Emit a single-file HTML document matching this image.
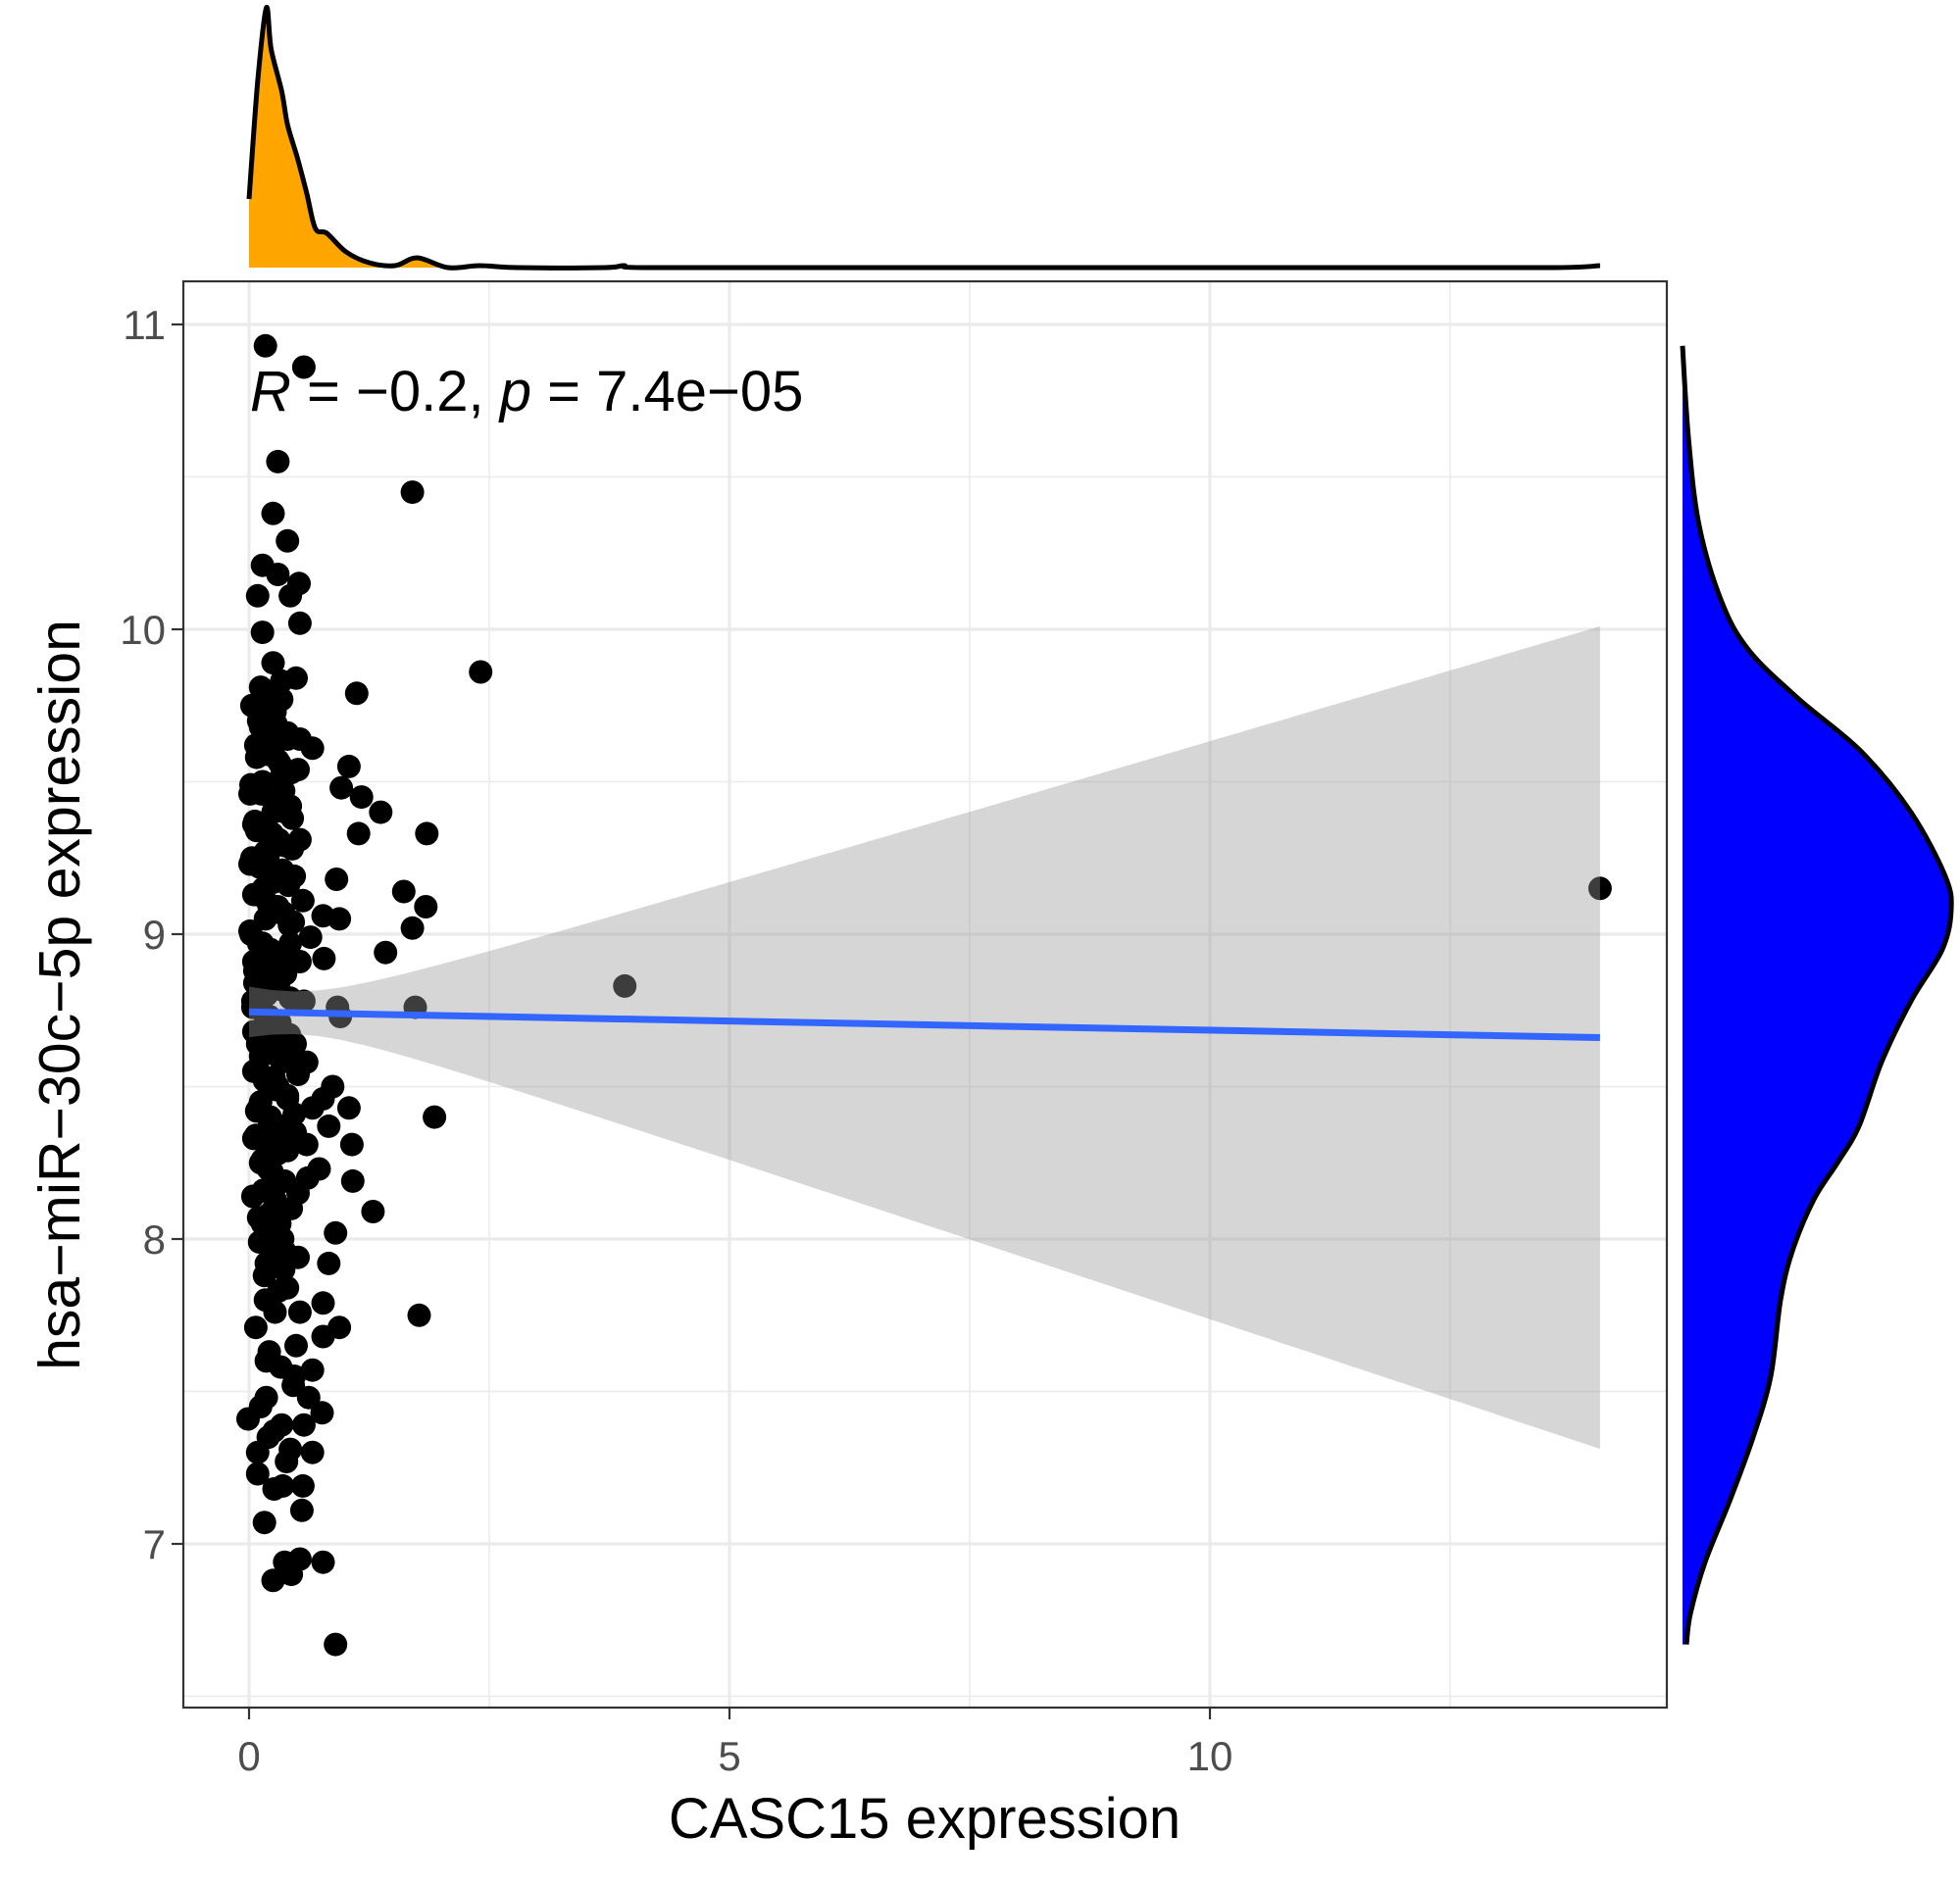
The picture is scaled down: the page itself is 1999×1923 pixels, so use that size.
<!DOCTYPE html>
<html><head><meta charset="utf-8">
<style>
html,body{margin:0;padding:0;background:#fff;}
svg{display:block;font-family:"Liberation Sans",Arial,sans-serif;}
</style></head>
<body>
<svg id="chart" width="1999" height="1923" viewBox="0 0 1999 1923" xmlns="http://www.w3.org/2000/svg">
  <rect x="0" y="0" width="1999" height="1923" fill="#fff"/>
  <g id="grid"></g>
  <g id="points"></g>
  <g id="fit"></g>
  <rect x="187" y="287" width="1513" height="1455" fill="none" stroke="#333" stroke-width="2.2"/>
  <g id="axes"></g>
  <g id="topdens"></g>
  <g id="rightdens"></g>
  <text x="255" y="419" font-size="58" fill="#000"><tspan font-style="italic">R</tspan> = −0.2, <tspan font-style="italic">p</tspan> = 7.4e−05</text>
  <text x="943" y="1875" font-size="58" text-anchor="middle" fill="#000">CASC15 expression</text>
  <text x="0" y="0" font-size="59" text-anchor="middle" fill="#000" transform="translate(81,1015) rotate(-90)">hsa−miR−30c−5p expression</text>
</svg>
<script>
// ---- data ----
const xVals = [0.17,0.57,0.30,1.70,0.25,0.40,0.14,0.30,0.52,0.09,0.43,0.14,0.53,2.41,0.25,0.49,1.12,0.12,0.34,0.53,0.66,1.04,0.96,1.17,1.37,1.14,1.85,0.91,1.61,14.06,1.84,0.94,1.70,0.77,1.42,0.78,3.91,0.92,1.73,0.95,1.93,1.04,0.77,0.87,1.07,0.83,1.08,1.29,0.90,0.83,1.77,0.77,0.94,0.77,0.66,0.49,0.76,0.57,0.66,0.43,0.56,0.26,0.55,0.16,-0.01,0.09,0.18,0.34,0.37,0.53,0.77,0.25,0.44,0.90,0.47,0.27,0.17,0.40,0.18,0.53,0.18,0.34,0.51,0.14,0.35,0.04,0.27,0.51,0.61,0.73,0.20,0.40,0.60,0.05,0.21,0.47,0.66,0.12,0.30,0.51,0.60,0.09,0.27,0.43,0.05,0.21,0.47,0.57,0.04,0.14,0.34,0.53,0.05,0.22,0.43,0.64,0.01,0.17,0.36,0.56,0.05,0.25,0.47,0.01,0.17,0.38,0.53,0.05,0.25,0.43,0.01,0.14,0.34,0.51,0.08,0.25,0.40,0.12,0.27,0.18,0.34,0.35,0.20,0.62,0.10,0.22,0.30,0.12,0.28,0.45,0.08,0.20,0.35,0.15,0.30,0.42,0.10,0.24,0.38,0.06,0.18,0.32,0.48,0.12,0.26,0.40,0.08,0.22,0.36,0.14,0.29,0.44,0.10,0.23,0.37,0.16,0.31,0.07,0.21,0.33,0.46,0.12,0.26,0.39,0.09,0.19,0.30,0.15,0.28,0.42,0.11,0.24,0.36,
0.03,0.15,0.28,0.40,0.07,0.19,0.32,0.44,0.02,0.13,0.26,0.38,0.06,0.18,0.31,0.45,0.03,0.16,0.29,0.41,0.08,0.20,0.33,0.46,0.02,0.14,0.27,0.39,0.06,0.19,0.31,0.43,0.04,0.17,0.29,0.42,0.09,0.21,0.34,0.05,0.16,0.28,0.40,0.10,0.22,0.35,0.07,0.19,0.30,0.12,0.24,0.37,0.15,0.27,0.20,0.32,0.11,0.23,0.36,0.48];
const yVals = [10.93,10.86,10.55,10.45,10.38,10.29,10.21,10.18,10.15,10.11,10.11,9.99,10.02,9.86,9.89,9.84,9.79,9.81,9.77,9.64,9.61,9.55,9.48,9.45,9.40,9.33,9.33,9.18,9.14,9.15,9.09,9.05,9.02,9.06,8.94,8.92,8.83,8.76,8.76,8.73,8.40,8.43,8.46,8.50,8.31,8.37,8.19,8.09,8.02,7.92,7.75,7.79,7.71,7.68,7.57,7.65,7.43,7.39,7.30,7.31,7.19,7.18,7.11,7.07,7.41,7.30,7.48,7.39,6.94,6.95,6.94,6.88,6.90,6.67,7.55,7.76,7.80,7.84,7.60,7.76,7.92,7.94,7.94,8.05,8.00,8.14,8.12,8.15,8.20,8.23,8.23,8.29,8.31,8.33,8.39,8.41,8.43,8.45,8.50,8.54,8.58,8.56,8.62,8.66,8.68,8.73,8.78,8.78,8.78,8.82,8.86,8.91,8.91,8.95,8.97,8.99,9.01,9.05,9.07,9.11,9.13,9.17,9.19,9.23,9.27,9.29,9.31,9.36,9.40,9.42,9.46,9.50,9.52,9.54,9.58,9.61,9.64,9.68,9.73,9.79,9.83,7.19,7.35,7.48,9.70,9.66,9.57,9.48,9.44,9.38,9.34,9.26,9.21,9.15,9.09,9.03,8.97,8.92,8.87,8.84,8.80,8.71,8.64,8.60,8.53,8.47,8.42,8.36,8.30,8.26,8.18,8.10,8.07,8.02,7.96,7.88,7.83,7.71,7.63,7.58,7.52,7.45,7.37,7.27,7.23,8.90,8.86,8.69,8.65,8.59,9.22,9.33,9.47,
9.75,9.72,9.69,9.66,9.62,9.59,9.56,9.53,9.49,9.46,9.43,9.40,9.37,9.34,9.31,9.28,9.25,9.22,9.19,9.16,9.13,9.10,9.07,9.04,9.00,8.97,8.94,8.91,8.88,8.85,8.82,8.79,8.76,8.73,8.70,8.67,8.64,8.61,8.58,8.55,8.52,8.49,8.46,8.43,8.40,8.37,8.34,8.31,8.28,8.25,8.22,8.19,8.16,8.13,8.08,8.05,7.99,7.97,7.90,8.35];
const fitIntercept = 8.745, fitSlope = -0.006, fitMeanX = 0.45, fitSe0 = 0.07, fitSeK = 0.0098;
const fitXMin = 0, fitXMax = 14.06;
const topDensX = [0,0.09,0.18,0.23,0.34,0.40,0.50,0.60,0.69,0.81,1.01,1.25,1.52,1.75,2.07,2.4,2.8,3.7,3.9,4.1,6,8,10,12,13.6,14.06];
const topDensH = [70,190,265,223,180,146,113,76,40,35,16,5,2,10,0,2,0,0,2,0,0,0,0,0,0,2];
const rightDensY = [10.93,10.63,10.34,10.09,9.93,9.77,9.60,9.40,9.19,9.08,8.95,8.78,8.58,8.37,8.25,8.13,7.96,7.80,7.55,7.35,7.14,6.94,6.77,6.67];
const rightDensW = [0,6,17,40,68,119,182,233,268,274,265,233,203,180,158,134,112,100,90,72,48,23,8,4];
const xTicks = [0,5,10];
const xMinor = [2.5,7.5,12.5];
const yTicks = [7,8,9,10,11];
const yMinor = [6.5,7.5,8.5,9.5,10.5];

// ---- scales ----
const PX0=187, PX1=1700, PY0=287, PY1=1742;
function sx(v){return 254 + v*98.0;}
function sy(v){return 331 + (11-v)*311;}
const NS='http://www.w3.org/2000/svg';
function mk(tag, attrs, parent){const e=document.createElementNS(NS,tag);for(const k in attrs)e.setAttribute(k,attrs[k]);parent.appendChild(e);return e;}
function smooth(pts){
  let d='M'+pts[0][0].toFixed(1)+','+pts[0][1].toFixed(1);
  for(let i=0;i<pts.length-1;i++){
    const p0=pts[Math.max(0,i-1)],p1=pts[i],p2=pts[i+1],p3=pts[Math.min(pts.length-1,i+2)];
    const c1=[p1[0]+(p2[0]-p0[0])/6,p1[1]+(p2[1]-p0[1])/6];
    const c2=[p2[0]-(p3[0]-p1[0])/6,p2[1]-(p3[1]-p1[1])/6];
    d+=' C'+c1[0].toFixed(1)+','+c1[1].toFixed(1)+' '+c2[0].toFixed(1)+','+c2[1].toFixed(1)+' '+p2[0].toFixed(1)+','+p2[1].toFixed(1);
  }
  return d;
}

// grid
const grid=document.getElementById('grid');
xMinor.forEach(v=>{const l=mk('line',{x1:sx(v),x2:sx(v),y1:PY0,y2:PY1,stroke:'#ebebeb','stroke-width':1.6},grid);

});
yMinor.forEach(v=>{const l=mk('line',{x1:PX0,x2:PX1,y1:sy(v),y2:sy(v),stroke:'#ebebeb','stroke-width':1.6},grid);

});
xTicks.forEach(v=>{const l=mk('line',{x1:sx(v),x2:sx(v),y1:PY0,y2:PY1,stroke:'#ebebeb','stroke-width':3.2},grid);

});
yTicks.forEach(v=>{const l=mk('line',{x1:PX0,x2:PX1,y1:sy(v),y2:sy(v),stroke:'#ebebeb','stroke-width':3.2},grid);

});

// points
const pg=document.getElementById('points');
for(let i=0;i<xVals.length;i++){
  const c=mk('circle',{cx:sx(xVals[i]).toFixed(1),cy:sy(yVals[i]).toFixed(1),r:12,fill:'#000'},pg);
  
  
}

// regression ribbon + line
const fg=document.getElementById('fit');
const upper=[],lower=[];
for(let k=0;k<=60;k++){
  const x=fitXMin+(fitXMax-fitXMin)*k/60;
  const yh=fitIntercept+fitSlope*x;
  const se=Math.sqrt(fitSe0*fitSe0+fitSeK*(x-fitMeanX)*(x-fitMeanX));
  upper.push([sx(x),sy(yh+se)]);lower.push([sx(x),sy(yh-se)]);
}
let rd='M'+upper.map(p=>p[0].toFixed(1)+','+p[1].toFixed(1)).join(' L')+' L'+lower.reverse().map(p=>p[0].toFixed(1)+','+p[1].toFixed(1)).join(' L')+' Z';
const rib=mk('path',{d:rd,fill:'#999999','fill-opacity':0.4},fg);


const fl=mk('line',{x1:sx(fitXMin),y1:sy(fitIntercept+fitSlope*fitXMin),x2:sx(fitXMax),y2:sy(fitIntercept+fitSlope*fitXMax),stroke:'#3366FF','stroke-width':7},fg);



// axes
const ax=document.getElementById('axes');
xTicks.forEach(v=>{
  const t=mk('line',{x1:sx(v),x2:sx(v),y1:PY1,y2:PY1+12,stroke:'#333','stroke-width':2.2},ax);
  
  
  const tx=mk('text',{x:sx(v),y:1806,'font-size':42,'text-anchor':'middle',fill:'#4d4d4d'},ax);
  tx.textContent=String(v);
  
  
});
yTicks.forEach(v=>{
  const t=mk('line',{x1:PX0-12,x2:PX0,y1:sy(v),y2:sy(v),stroke:'#333','stroke-width':2.2},ax);
  
  
  const tx=mk('text',{x:PX0-18,y:sy(v)+15,'font-size':42,'text-anchor':'end',fill:'#4d4d4d'},ax);
  tx.textContent=String(v);
  
  
});

// top density
const tg=document.getElementById('topdens');
const TB=273;
const tpts=topDensX.map((x,i)=>[sx(x),TB-topDensH[i]]);
const tline=smooth(tpts);
const tfill=mk('path',{d:tline+' L'+sx(topDensX[topDensX.length-1])+','+TB+' L'+sx(topDensX[0])+','+TB+' Z',fill:'#FFA500',stroke:'none'},tg);


const tstroke=mk('path',{d:tline,fill:'none',stroke:'#000','stroke-width':5},tg);



// right density
const rg=document.getElementById('rightdens');
const RB=1716;
const rpts=rightDensY.map((y,i)=>[RB+rightDensW[i],sy(y)]);
const rline=smooth(rpts);
const rfill=mk('path',{d:rline+' L'+RB+','+sy(rightDensY[rightDensY.length-1])+' L'+RB+','+sy(rightDensY[0])+' Z',fill:'#0000FF',stroke:'none'},rg);


const rstroke=mk('path',{d:rline,fill:'none',stroke:'#000','stroke-width':5},rg);


</script>
</body></html>
